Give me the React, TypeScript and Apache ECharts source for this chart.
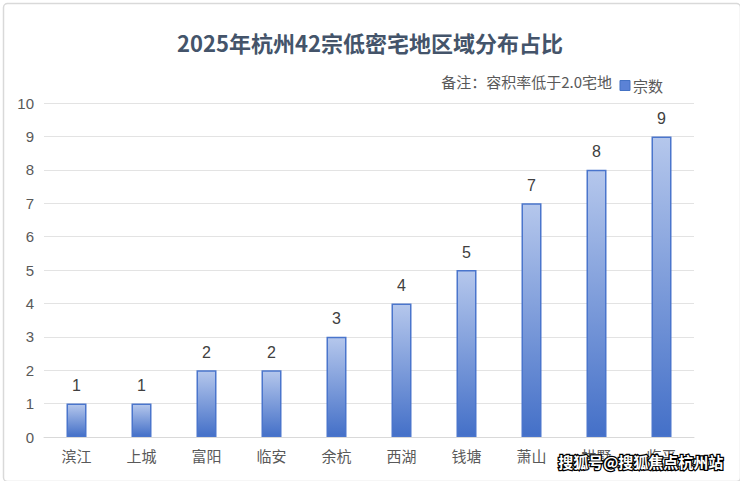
import React, { useEffect, useRef } from "react";
import * as echarts from "echarts";

const titleText = "2025年杭州42宗低密宅地区域分布占比";
const noteText = "备注：容积率低于2.0宅地";
const seriesName = "宗数";
const districts = ["滨江", "上城", "富阳", "临安", "余杭", "西湖", "钱塘", "萧山", "拱墅", "临平"];
const counts = [1, 1, 2, 2, 3, 4, 5, 7, 8, 9];
const watermark = "搜狐号@搜狐焦点杭州站";

const FONT = "'Noto Sans CJK SC', 'Noto Sans', sans-serif";
const NUMFONT = "'Liberation Sans', 'Noto Sans CJK SC', sans-serif";

export default function App() {
  const ref = useRef<HTMLDivElement>(null);
  useEffect(() => {
    if (!ref.current) return;
    const chart = echarts.init(ref.current, null, { renderer: "svg" });
    chart.setOption({
      animation: false,
      backgroundColor: "#ffffff",
      textStyle: { fontFamily: FONT },
      title: {
        text: titleText,
        left: "center",
        top: 26,
        textStyle: { fontSize: 22, fontWeight: "bold", color: "#44546a", fontFamily: FONT },
      },
      legend: {
        right: 72,
        top: 73,
        itemWidth: 10,
        itemHeight: 10,
        itemGap: 4,
        icon: "rect",
        textStyle: { fontSize: 15, color: "#595959", fontFamily: FONT, padding: [0, 0, 0, -2] },
        data: [{ name: seriesName, itemStyle: { color: "#5b82d6", borderColor: "#4472c4", borderWidth: 1 } }],
      },
      grid: { left: 44, right: 46, top: 103, bottom: 44, containLabel: false },
      xAxis: {
        type: "category",
        data: districts,
        axisLine: { lineStyle: { color: "#d9d9d9" } },
        axisTick: { show: false },
        axisLabel: { fontSize: 15, color: "#595959", margin: 11, fontFamily: FONT },
      },
      yAxis: {
        type: "value",
        min: 0,
        max: 10,
        interval: 1,
        axisLine: { show: false },
        axisTick: { show: false },
        splitLine: { lineStyle: { color: "#e3e3e3" } },
        axisLabel: { fontSize: 15, color: "#595959", margin: 10, fontFamily: NUMFONT },
      },
      series: [
        {
          name: seriesName,
          type: "bar",
          data: counts,
          barWidth: 20,
          itemStyle: {
            color: new echarts.graphic.LinearGradient(0, 0, 0, 1, [
              { offset: 0, color: "#b5c7ec" },
              { offset: 1, color: "#4470c8" },
            ]),
            borderColor: "#4a75cc",
            borderWidth: 1.5,
          },
          label: {
            show: true,
            position: "top",
            distance: 10,
            fontSize: 16,
            color: "#404040",
            fontFamily: NUMFONT,
          },
        },
      ],
      graphic: [
        {
          type: "text",
          right: 128,
          top: 74,
          style: { text: noteText, fontSize: 15, fill: "#595959", fontFamily: FONT },
        },
        {
          type: "rect",
          left: 1,
          top: 1,
          shape: { width: 737, height: 478, r: 4 },
          style: { fill: "none", stroke: "#d9d9d9", lineWidth: 1.5 },
          silent: true,
        },
        {
          type: "text",
          left: 557,
          top: 453,
          z: 100,
          style: {
            text: watermark,
            fontSize: 15,
            fontWeight: "bold",
            fill: "#ffffff",
            stroke: "#000000",
            lineWidth: 2.5,
            fontFamily: FONT,
          },
        },
      ],
    });
    return () => chart.dispose();
  }, []);
  return (
    <div
      ref={ref}
      style={{ position: "absolute", left: 0, top: 0, width: 740, height: 481 }}
    />
  );
}
